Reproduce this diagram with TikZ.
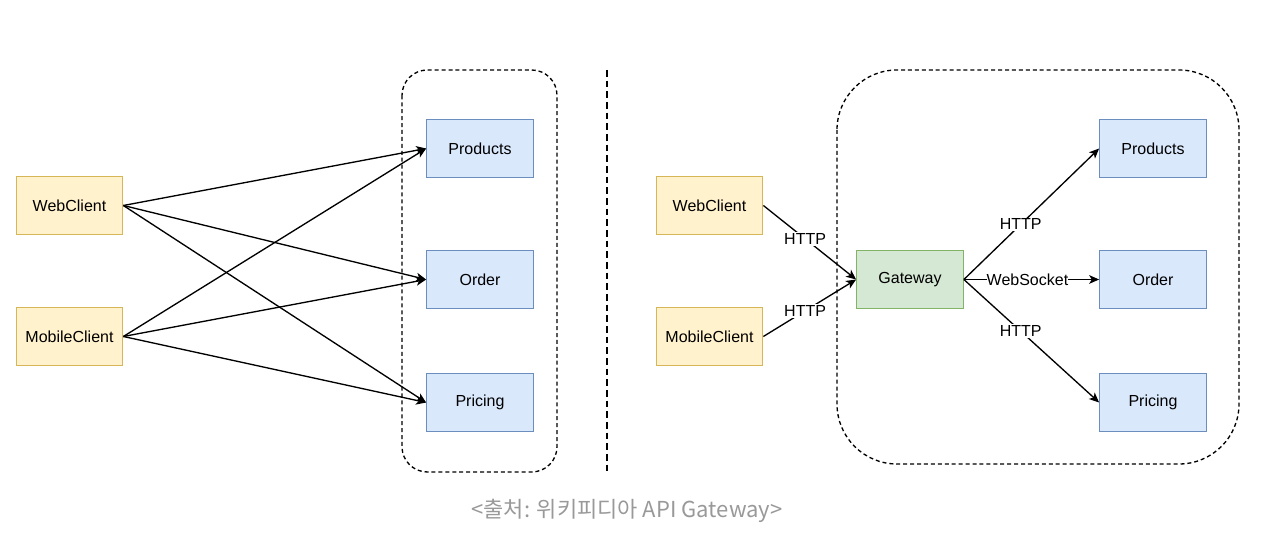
\documentclass[tikz,border=0pt]{standalone}
\usepackage{fontspec}
\setmainfont{Liberation Sans}
\newfontfamily\krfont{Noto Sans CJK KR}
\usetikzlibrary{arrows.meta}

\definecolor{clientfill}{HTML}{FFF2CC}
\definecolor{clientline}{HTML}{D6B656}
\definecolor{servicefill}{HTML}{DAE8FC}
\definecolor{serviceline}{HTML}{6C8EBF}
\definecolor{gatefill}{HTML}{D5E8D4}
\definecolor{gateline}{HTML}{82B366}
\definecolor{captiongray}{HTML}{999999}

\tikzset{
    box/.style={rectangle, line width=0.8pt, minimum width=80pt, minimum height=43pt, font=\fontsize{12}{14}\selectfont},
    client/.style={box, draw=clientline, fill=clientfill},
    service/.style={box, draw=serviceline, fill=servicefill},
    gate/.style={box, draw=gateline, fill=gatefill},
    conn/.style={-{Stealth[length=7.5pt, width=6.5pt, inset=2pt]}, line width=1pt},
    proto/.style={fill=white, inner sep=1pt, font=\fontsize{12}{14}\selectfont},
    groupline/.style={line width=1pt, dash pattern=on 3pt off 2.2pt},
    splitline/.style={line width=1.6pt, dash pattern=on 5pt off 3pt}
}

\begin{document}
\begin{tikzpicture}[x=0.75pt, y=-0.75pt]
    \useasboundingbox (0, 0) rectangle (1272, 548);

    % without gateway
    \draw[groupline, rounded corners=19pt] (402, 70) rectangle (557, 472);

    \node[client] (webL) at (69.5, 205.5) {WebClient};
    \node[client] (mobileL) at (69.5, 336.5) {MobileClient};

    \node[service] (productsL) at (480, 148.5) {Products};
    \node[service] (orderL) at (480, 279.5) {Order};
    \node[service] (pricingL) at (480, 402.5) {Pricing};

    \draw[conn] (webL.east) -- (productsL.west);
    \draw[conn] (webL.east) -- (orderL.west);
    \draw[conn] (webL.east) -- (pricingL.west);
    \draw[conn] (mobileL.east) -- (productsL.west);
    \draw[conn] (mobileL.east) -- (orderL.west);
    \draw[conn] (mobileL.east) -- (pricingL.west);

    \draw[splitline] (607, 70) -- (607, 472);

    % with gateway
    \draw[groupline, rounded corners=45pt] (837, 70) rectangle (1239, 464);

    \node[client] (webR) at (709.5, 205.5) {WebClient};
    \node[client] (mobileR) at (709.5, 336.5) {MobileClient};

    \node[gate] (gateway) at (910, 279.5) {Gateway};

    \node[service] (productsR) at (1153, 148.5) {Products};
    \node[service] (orderR) at (1153, 279.5) {Order};
    \node[service] (pricingR) at (1153, 402.5) {Pricing};

    \draw[conn] (webR.east) -- node[proto, pos=0.45] {HTTP} (gateway.west);
    \draw[conn] (mobileR.east) -- node[proto, pos=0.45] {HTTP} (gateway.west);
    \draw[conn] (gateway.east) -- node[proto, pos=0.42] {HTTP} (productsR.west);
    \draw[conn] (gateway.east) -- node[proto, pos=0.47, inner sep=0pt] {WebSocket} (orderR.west);
    \draw[conn] (gateway.east) -- node[proto, pos=0.42] {HTTP} (pricingR.west);

    \node[text=captiongray, font=\krfont\fontsize{16.5}{19}\selectfont] (source) at (627, 511) {<출처: 위키피디아 API Gateway>};
\end{tikzpicture}
\end{document}
